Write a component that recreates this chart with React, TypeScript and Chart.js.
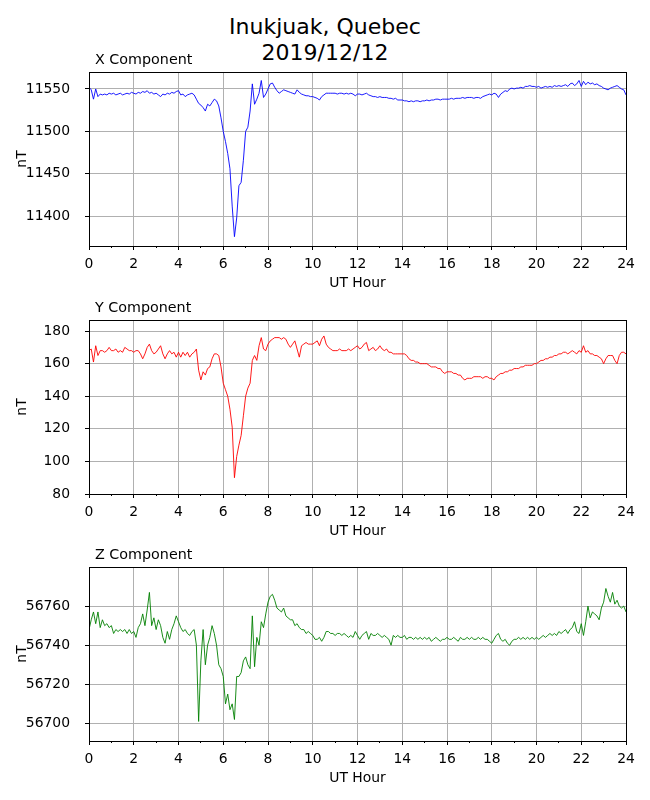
import { useEffect, useRef } from 'react'
import Chart from 'chart.js/auto'

// samples every 0.1 h (6 min), starting at 00:00 UT
const SAMPLE_STEP = 0.1

const HOUR_TICKS = [0, 1, 2, 3, 4, 5, 6, 7, 8, 9, 10, 11, 12, 13, 14, 15, 16, 17, 18, 19, 20, 21, 22, 23, 24]
const X_TICKS = [11400, 11450, 11500, 11550]
const Y_TICKS = [80, 100, 120, 140, 160, 180]
const Z_TICKS = [56700, 56720, 56740, 56760]

// X component (nT), one row per hour
const X_VALUES = [
  11552, 11549, 11538, 11550, 11541, 11544, 11543, 11544, 11543, 11545,
  11544, 11545, 11543, 11544, 11545, 11543, 11544, 11545, 11544, 11546,
  11545, 11544, 11546, 11545, 11547, 11546, 11548, 11545, 11546, 11544,
  11545, 11543, 11541, 11544, 11543, 11545, 11544, 11546, 11545, 11547,
  11548, 11543, 11544, 11541, 11543, 11544, 11545, 11543, 11538, 11533,
  11531, 11528, 11524, 11532, 11530, 11534, 11538, 11536, 11530, 11516,
  11500, 11488, 11474, 11456, 11412, 11376, 11398, 11436, 11440, 11466,
  11500, 11505, 11524, 11556, 11532, 11538, 11545, 11560, 11540, 11544,
  11550, 11556, 11557, 11552, 11548, 11545, 11547, 11549, 11548, 11547,
  11546, 11545, 11544, 11549, 11546, 11544, 11543, 11542, 11542, 11541,
  11541, 11540, 11539, 11537, 11541, 11543, 11545, 11545, 11545, 11545,
  11545, 11544, 11545, 11545, 11544, 11545, 11544, 11545, 11544, 11542,
  11544, 11544, 11543, 11544, 11545, 11543, 11542, 11541, 11541, 11540,
  11541, 11540, 11540, 11540, 11539, 11539, 11538, 11539, 11537, 11537,
  11537, 11536, 11536, 11535, 11536, 11535, 11536, 11536, 11535, 11536,
  11536, 11537, 11536, 11537, 11537, 11538, 11538, 11537, 11538, 11538,
  11538, 11538, 11539, 11538, 11539, 11539, 11539, 11540, 11539, 11540,
  11540, 11540, 11539, 11540, 11540, 11539, 11541, 11542, 11543, 11544,
  11543, 11545, 11544, 11540, 11544, 11546, 11548, 11547, 11550, 11551,
  11550, 11551, 11551, 11552, 11551, 11553, 11553, 11554, 11553, 11553,
  11552, 11553, 11551, 11552, 11553, 11552, 11553, 11552, 11554, 11553,
  11554, 11553, 11554, 11555, 11553, 11556, 11557, 11554, 11556, 11560,
  11553, 11559, 11555, 11558, 11556, 11557, 11555, 11556, 11554, 11553,
  11551, 11550, 11549, 11551, 11552, 11553, 11554, 11552, 11550, 11549,
  11543,
]

// Y component (nT)
const Y_VALUES = [
  168, 169, 161, 171, 165, 168, 168, 167, 168, 170,
  168, 168, 169, 167, 168, 167, 170, 169, 168, 168,
  167, 168, 168, 166, 163, 166, 170, 172, 168, 166,
  167, 169, 171, 166, 163, 166, 168, 166, 167, 164,
  167, 164, 167, 165, 167, 164, 166, 167, 169, 156,
  150, 155, 153, 157, 158, 163, 166, 166, 165, 158,
  148, 144, 140, 132, 121, 90, 103, 110, 116, 128,
  140, 145, 148, 162, 165, 162, 171, 176, 169, 168,
  172, 174, 175, 176, 176, 176, 175, 176, 175, 172,
  170, 172, 174, 169, 164, 171, 172, 173, 172, 172,
  172, 173, 174, 171, 175, 177, 172, 170, 169, 168,
  168, 168, 169, 168, 168, 168, 169, 168, 169, 170,
  171, 169, 170, 172, 173, 168, 169, 170, 168, 169,
  171, 169, 168, 169, 167, 167, 166, 166, 166, 166,
  166, 166, 165, 163, 162, 162, 161, 161, 160, 160,
  160, 160, 159, 158, 158, 158, 157, 157, 155, 154,
  155, 155, 155, 154, 154, 153, 153, 151, 150, 151,
  151, 151, 152, 152, 152, 152, 151, 152, 152, 151,
  151, 150, 152, 153, 154, 154, 155, 155, 156, 156,
  157, 157, 157, 158, 158, 159, 159, 159, 159, 160,
  160, 161, 162, 162, 163, 163, 164, 164, 165, 165,
  166, 166, 167, 167, 166, 167, 168, 167, 166, 168,
  167, 171, 167, 168, 166, 166, 165, 165, 164, 163,
  160, 163, 165, 165, 165, 162, 160, 165, 167, 167,
  166,
]

// Z component (nT)
const Z_VALUES = [
  56748, 56753, 56757, 56751, 56757, 56749, 56753, 56750, 56751, 56749,
  56750, 56746, 56748, 56747, 56748, 56747, 56748, 56746, 56748, 56746,
  56747, 56744, 56749, 56751, 56756, 56750, 56758, 56767, 56750, 56754,
  56748, 56753, 56750, 56744, 56741, 56747, 56743, 56748, 56751, 56755,
  56752, 56749, 56747, 56748, 56746, 56745, 56747, 56748, 56740, 56701,
  56732, 56748, 56730, 56740, 56744, 56750, 56746, 56740, 56730, 56728,
  56724, 56710, 56715, 56707, 56710, 56702, 56724, 56724, 56726, 56732,
  56734, 56730, 56728, 56755, 56729, 56744, 56740, 56752, 56749, 56756,
  56762, 56765, 56766, 56763, 56759, 56758, 56757, 56759, 56755, 56754,
  56753, 56753, 56750, 56751, 56749, 56748, 56748, 56746, 56747, 56746,
  56745, 56743, 56743, 56744, 56742, 56744, 56747, 56747, 56746, 56746,
  56745, 56746, 56746, 56745, 56746, 56745, 56744, 56745, 56744, 56747,
  56745, 56743, 56745, 56746, 56747, 56743, 56746, 56745, 56745, 56746,
  56745, 56744, 56745, 56744, 56743, 56740, 56745, 56744, 56745, 56744,
  56744, 56745, 56743, 56744, 56744, 56743, 56744, 56743, 56744, 56743,
  56744, 56743, 56744, 56742, 56743, 56744, 56743, 56742, 56743, 56743,
  56744, 56743, 56743, 56744, 56743, 56742, 56744, 56743, 56743, 56744,
  56743, 56744, 56743, 56743, 56744, 56743, 56744, 56743, 56743, 56742,
  56741, 56743, 56745, 56746, 56743, 56742, 56743, 56741, 56740, 56742,
  56743, 56743, 56744, 56743, 56744, 56743, 56744, 56743, 56744, 56743,
  56744, 56743, 56744, 56745, 56744, 56745, 56746, 56745, 56746, 56745,
  56747, 56746, 56747, 56748, 56746, 56748, 56749, 56752, 56747, 56746,
  56751, 56745, 56752, 56760, 56754, 56757, 56756, 56755, 56753, 56759,
  56762, 56769, 56765, 56762, 56767, 56761, 56763, 56760, 56759, 56760,
  56757,
]

const FONT = "'DejaVu Sans', sans-serif"
const LABEL_SIZE = 13.9
const CANVAS_W = 650
const CANVAS_H = 250
const GRID_COLOR = '#b0b0b0'

// snap a coordinate to the middle of a device pixel so 1px lines stay crisp
const crisp = (v: number) => Math.round(v - 0.5) + 0.5

type PanelProps = {
  title: string
  values: number[]
  color: string
  yMin: number
  yMax: number
  yTicks: number[]
  top: number
}

function Panel({ title, values, color, yMin, yMax, yTicks, top }: PanelProps) {
  const canvasRef = useRef<HTMLCanvasElement>(null)

  useEffect(() => {
    const canvas = canvasRef.current
    if (!canvas) return

    // matplotlib-like axes: grey grid under the trace, then black spines,
    // tick marks (minor hours shorter), axis titles and the axes title on top
    const frame = {
      id: 'frame',
      beforeDatasetsDraw(chart: Chart) {
        const { ctx, chartArea: a, scales } = chart
        ctx.save()
        ctx.strokeStyle = GRID_COLOR
        ctx.lineWidth = 1
        ctx.beginPath()
        for (const h of HOUR_TICKS) {
          if (h % 2 !== 0) continue
          const px = crisp(scales.x.getPixelForValue(h))
          ctx.moveTo(px, a.top)
          ctx.lineTo(px, a.bottom)
        }
        for (const v of yTicks) {
          const py = crisp(scales.y.getPixelForValue(v))
          ctx.moveTo(a.left, py)
          ctx.lineTo(a.right, py)
        }
        ctx.stroke()
        ctx.restore()
      },
      afterDraw(chart: Chart) {
        const { ctx, chartArea: a, scales } = chart
        ctx.save()
        ctx.strokeStyle = '#000'
        ctx.lineWidth = 1
        ctx.strokeRect(crisp(a.left), crisp(a.top), Math.round(a.right - a.left), Math.round(a.bottom - a.top))
        ctx.beginPath()
        for (const h of HOUR_TICKS) {
          const px = crisp(scales.x.getPixelForValue(h))
          const len = h % 2 === 0 ? 4 : 2
          ctx.moveTo(px, a.bottom)
          ctx.lineTo(px, a.bottom + len)
        }
        for (const v of yTicks) {
          const py = crisp(scales.y.getPixelForValue(v))
          ctx.moveTo(a.left, py)
          ctx.lineTo(a.left - 4, py)
        }
        ctx.stroke()

        ctx.fillStyle = '#000'
        ctx.font = `14.3px ${FONT}`
        ctx.textBaseline = 'alphabetic'
        ctx.textAlign = 'left'
        ctx.fillText(title, a.left + 6, a.top - 8)

        ctx.font = `${LABEL_SIZE}px ${FONT}`
        ctx.textAlign = 'center'
        ctx.fillText('UT Hour', (a.left + a.right) / 2, a.bottom + 41)

        ctx.translate(22, (a.top + a.bottom) / 2)
        ctx.rotate(-Math.PI / 2)
        ctx.textBaseline = 'middle'
        ctx.fillText('nT', 0, 0)
        ctx.restore()
      },
    }

    const chart = new Chart(canvas, {
      type: 'line',
      data: {
        datasets: [
          {
            data: values.map((v, i) => ({ x: i * SAMPLE_STEP, y: v })),
            borderColor: color,
            borderWidth: 0.9,
            pointRadius: 0,
            tension: 0,
            fill: false,
          },
        ],
      },
      options: {
        responsive: false,
        animation: false,
        events: [],
        layout: { padding: { left: 0, right: 24, top: 32, bottom: 0 } },
        plugins: {
          legend: { display: false },
          tooltip: { enabled: false },
        },
        scales: {
          x: {
            type: 'linear',
            min: 0,
            max: 24,
            afterBuildTicks: (scale) => {
              scale.ticks = HOUR_TICKS.map((value) => ({ value }))
            },
            afterFit: (scale) => {
              scale.height = 44
            },
            ticks: {
              autoSkip: false,
              maxRotation: 0,
              padding: 2,
              color: '#000',
              font: { family: FONT, size: LABEL_SIZE },
              callback: (value) => (Number(value) % 2 === 0 ? String(value) : ''),
            },
            grid: { display: false },
            border: { display: false },
          },
          y: {
            type: 'linear',
            min: yMin,
            max: yMax,
            afterBuildTicks: (scale) => {
              scale.ticks = yTicks.map((value) => ({ value }))
            },
            afterFit: (scale) => {
              scale.width = 89
            },
            ticks: {
              padding: 11,
              color: '#000',
              font: { family: FONT, size: LABEL_SIZE },
              callback: (value) => String(value),
            },
            grid: { display: false },
            border: { display: false },
          },
        },
      },
      plugins: [frame],
    })

    return () => {
      chart.destroy()
    }
  }, [title, values, color, yMin, yMax, yTicks])

  return (
    <canvas
      ref={canvasRef}
      width={CANVAS_W}
      height={CANVAS_H}
      style={{ position: 'absolute', left: 0, top, width: CANVAS_W, height: CANVAS_H }}
    />
  )
}

export default function App() {
  return (
    <div
      style={{
        position: 'absolute',
        left: 0,
        top: 0,
        width: 650,
        height: 800,
        background: '#fff',
        overflow: 'hidden',
      }}
    >
      <div
        style={{
          position: 'absolute',
          left: 0,
          top: 14,
          width: 650,
          textAlign: 'center',
          fontFamily: FONT,
          fontSize: 22,
          lineHeight: '25.7px',
          color: '#000',
        }}
      >
        <div>Inukjuak, Quebec</div>
        <div>2019/12/12</div>
      </div>
      <Panel title="X Component" values={X_VALUES} color="#0000ff" yMin={11365} yMax={11570} yTicks={X_TICKS} top={40} />
      <Panel title="Y Component" values={Y_VALUES} color="#ff0000" yMin={80} yMax={186.8} yTicks={Y_TICKS} top={288} />
      <Panel title="Z Component" values={Z_VALUES} color="#008000" yMin={56691} yMax={56780} yTicks={Z_TICKS} top={535} />
    </div>
  )
}
